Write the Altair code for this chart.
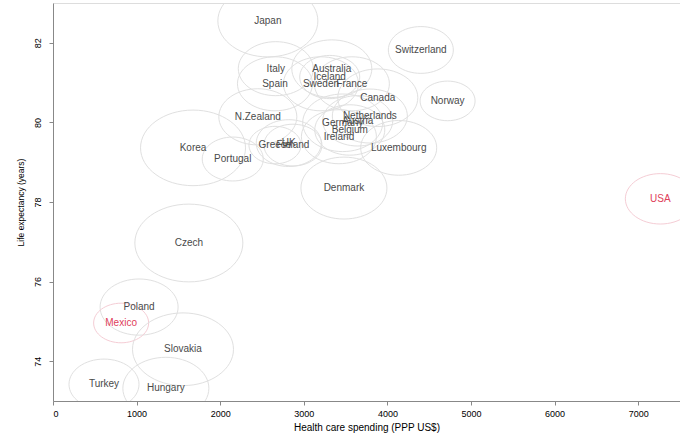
import altair as alt
import pandas as pd

countries = ["Japan", "Switzerland", "Italy", "Spain", "Australia", "Iceland", "Sweden",
             "France", "Canada", "Norway", "N.Zealand", "Netherlands", "Austria", "Germany",
             "Belgium", "Ireland", "Luxembourg", "Korea", "Portugal", "Greece", "Finland",
             "UK", "Denmark", "USA", "Czech", "Poland", "Mexico", "Slovakia", "Turkey", "Hungary"]
spending = [2570, 4400, 2665, 2655, 3335, 3310, 3205,
            3575, 3885, 4720, 2450, 3790, 3645, 3465,
            3550, 3420, 4135, 1675, 2150, 2655, 2870,
            2820, 3480, 7265, 1625, 1030, 815, 1555, 610, 1350]
life_exp = [82.55, 81.82, 81.35, 80.97, 81.35, 81.14, 80.97,
            80.97, 80.62, 80.54, 80.14, 80.16, 80.04, 79.99,
            79.81, 79.64, 79.36, 79.36, 79.08, 79.43, 79.43,
            79.48, 78.35, 78.08, 76.97, 75.36, 74.96, 74.30, 73.42, 73.32]
bubble = [100, 65, 75, 75, 80, 60, 75,
          75, 80, 55, 78, 75, 70, 80,
          70, 75, 76, 105, 61, 52, 58,
          65, 86, 70, 108, 78, 55, 101, 70, 86]
x_ticks = [0, 1000, 2000, 3000, 4000, 5000, 6000, 7000]
y_ticks = [74, 76, 78, 80, 82]
highlight = ["USA", "Mexico"]

df = pd.DataFrame({"country": countries, "spending": spending,
                   "life": life_exp, "bubble": bubble})

FONT = "Liberation Sans"
ELLIPSE = "M-1,0A1,0.72,0,1,1,1,0A1,0.72,0,1,1,-1,0Z"
is_red = alt.FieldOneOfPredicate(field="country", oneOf=highlight)

x = alt.X("spending:Q",
          scale=alt.Scale(domain=[0, 7500], nice=False, zero=True),
          axis=alt.Axis(values=x_ticks, title="Health care spending (PPP US$)",
                        grid=False, format="d", labelFontSize=9, titleFontSize=10,
                        titleFontWeight="normal", labelPadding=4, titlePadding=4,
                        tickSize=4))
y = alt.Y("life:Q",
          scale=alt.Scale(domain=[73, 83], nice=False, zero=False),
          axis=alt.Axis(values=y_ticks, title="Life expectancy (years)",
                        grid=False, labelAngle=-90, labelAlign="center",
                        labelBaseline="bottom", labelFontSize=9, titleFontSize=8.5,
                        titleFontWeight="normal", labelPadding=7, titlePadding=8,
                        tickSize=4))

base = alt.Chart(df)

circles = base.mark_point(shape=ELLIPSE, filled=False, strokeWidth=1, opacity=1,
                          clip=True).encode(
    x=x, y=y,
    size=alt.Size("bubble:Q", scale=alt.Scale(type="pow", exponent=2, domain=[0, 110],
                                              range=[0, 12100]), legend=None),
    color=alt.condition(is_red, alt.value("#f5cdd5"), alt.value("#e0e0e0")),
)

labels = base.mark_text(font=FONT, fontSize=10).encode(
    x=x, y=y,
    text="country:N",
    color=alt.condition(is_red, alt.value("#e0405a"), alt.value("#4a4a4a")),
)

chart = (circles + labels).properties(
    width=627, height=398,
    autosize=alt.AutoSizeParams(type="none"),
    padding={"left": 53, "top": 3, "right": 0, "bottom": 33},
).configure_view(stroke="#999999", strokeWidth=1).configure_axis(
    domainColor="#888888", tickColor="#888888", labelColor="#666666",
    titleColor="#555555", labelFont=FONT, titleFont=FONT,
).configure(background="white")

chart.save("out.html", embed_options={"renderer": "svg", "actions": False})
